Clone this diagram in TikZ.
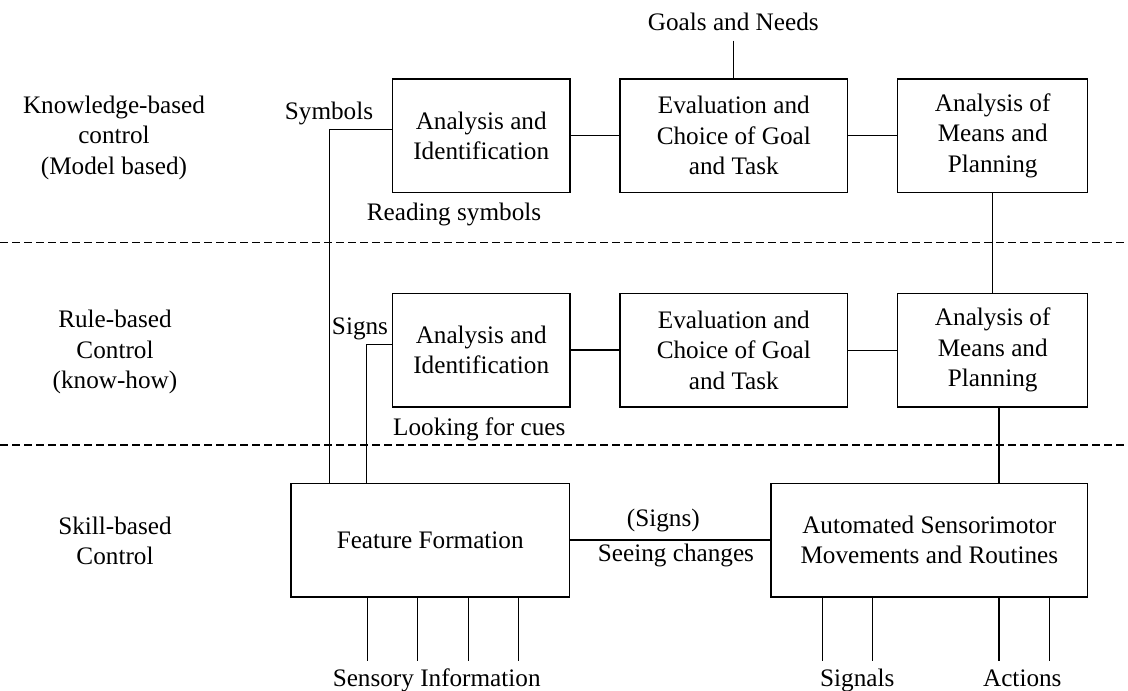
\documentclass[tikz,border=0pt]{standalone}
\usepackage{fontspec}
\setmainfont{Liberation Serif}
\begin{document}
\begin{tikzpicture}[x=1pt,y=-1pt,
  every node/.style={font=\fontsize{25.2}{30.5}\selectfont, inner sep=0pt, align=center},
  box/.style={draw, line width=1.5pt, minimum height=113.5pt},
  lbl/.style={anchor=base},
  conn/.style={line width=1.5pt},
  sep/.style={line width=1.2pt, dash pattern=on 8pt off 4pt}]
\useasboundingbox (0,0) rectangle (1128,691);
\fill[white] (0,0) rectangle (1128,691);
% separators
\coordinate (d1l) at (0,242.5); \coordinate (d1r) at (1128,242.5);
\coordinate (d2l) at (0,445); \coordinate (d2r) at (1128,445);
\draw[sep] (d1l) -- (d1r);
\draw[sep] (d2l) -- (d2r);
% level labels
\node (L1) at (114,137.5) {Knowledge-based\\control\\(Model based)};
\node (L2) at (115,352) {Rule-based\\Control\\(know-how)};
\node (L3) at (115,541) {Skill-based\\Control};
% boxes
\node[box, minimum width=177.7pt] (A1) at (481.2,135.8) {Analysis and\\Identification};
\node[box, minimum width=227.7pt] (E1) at (733.8,135.8) {Evaluation and\\Choice of Goal\\and Task};
\node[box, minimum width=190pt] (M1) at (992.7,135.8) {Analysis of\\Means and\\Planning};
\node[box, minimum width=177.7pt] (A2) at (481.2,350) {Analysis and\\Identification};
\node[box, minimum width=227.7pt] (E2) at (733.8,350.3) {Evaluation and\\Choice of Goal\\and Task};
\node[box, minimum width=190pt] (M2) at (992.7,350.3) {Analysis of\\Means and\\Planning};
\node[box, minimum width=278.3pt] (FF) at (430.2,540) {Feature Formation};
\node[box, minimum width=316.7pt] (AS) at (929.3,540) {Automated Sensorimotor\\Movements and Routines};
% labels
\node[lbl] (goals) at (733.3,30.5) {Goals and Needs};
\node[lbl] (sym) at (329,119) {Symbols};
\node[lbl] (read) at (454,220.5) {Reading symbols};
\node[lbl] (signs) at (360,334) {Signs};
\node[lbl] (look) at (479.3,435) {Looking for cues};
\node[lbl] (psigns) at (663.3,526) {(Signs)};
\node[lbl] (seeing) at (676,561.5) {Seeing changes};
\node[lbl] (sens) at (436.7,686.5) {Sensory Information};
\node[lbl] (sig) at (857.3,686.5) {Signals};
\node[lbl] (act) at (1022.3,686.5) {Actions};
% connectors
\coordinate (gend) at (733.3,40.7);
\draw[conn] (gend) -- (gend |- E1.north);
\draw[conn] (A1.east |- 0,135.7) -- (E1.west |- 0,135.7);
\draw[conn] (E1.east |- 0,135.7) -- (M1.west |- 0,135.7);
\draw[conn] (A2.east) -- (E2.west |- A2.east);
\draw[conn] (E2.east) -- (M2.west);
\draw[conn] (M1.south) -- (M2.north);
\coordinate (m2x) at (999,0);
\draw[conn] (M2.south -| m2x) -- (AS.north -| m2x);
\coordinate (s1) at (329.3,129.3);
\draw[conn] (A1.west |- s1) -- (s1) -- (s1 |- FF.north);
\coordinate (s2) at (366.7,344.3);
\draw[conn] (A2.west |- s2) -- (s2) -- (s2 |- FF.north);
\draw[conn] (FF.east) -- (AS.west);
% bottom inputs / outputs
\foreach \x [count=\i] in {367.3,417.7,468.3,518.7} {
  \coordinate (fb\i) at (\x,660.5);
  \draw[conn] (fb\i |- FF.south) -- (fb\i);
}
\foreach \x [count=\i] in {822.3,872.3,999,1049.3} {
  \coordinate (ab\i) at (\x,660.5);
  \draw[conn] (ab\i |- AS.south) -- (ab\i);
}
\end{tikzpicture}
\end{document}
